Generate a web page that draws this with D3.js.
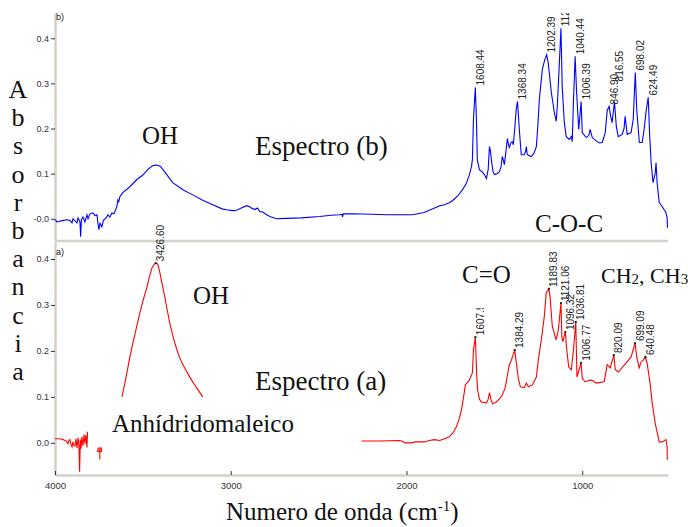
<!DOCTYPE html>
<html>
<head>
<meta charset="utf-8">
<script src="https://cdnjs.cloudflare.com/ajax/libs/d3/7.8.5/d3.min.js"></script>
<style>
    body { margin: 0; background: #fff; }
    svg { display: block; }
    .serif { font-family: "Liberation Serif", "Times New Roman", serif; fill: #111; }
    .tick text { font-family: "Liberation Sans", Arial, sans-serif; fill: #333; }
</style>
</head>
<body>
<svg id="chart"></svg>
<script>
// spectrum (b): [wavenumber, absorbance]
var specB = [
    [3999,-0.002],[3989,-0.007],[3960,-0.004],[3930,-0.002],[3915,-0.004],[3903,-0.009],[3898,0.000],[3887,-0.004],
    [3875,-0.009],[3869,0.002],[3858,-0.007],[3854,-0.040],[3850,-0.002],[3841,0.004],[3830,-0.007],[3818,0.009],
    [3812,0.000],[3801,0.011],[3784,0.013],[3773,0.007],[3761,0.009],[3756,-0.009],[3750,-0.024],[3744,-0.010],
    [3739,-0.013],[3733,-0.018],[3725,-0.004],[3716,0.000],[3705,0.004],[3699,0.009],[3688,0.004],[3676,0.013],
    [3665,0.011],[3659,0.016],[3648,0.027],[3642,0.042],[3637,0.038],[3631,0.049],[3614,0.058],[3574,0.071],
    [3534,0.087],[3500,0.097],[3470,0.110],[3443,0.118],[3420,0.119],[3400,0.116],[3380,0.106],[3330,0.080],
    [3270,0.064],[3216,0.053],[3160,0.041],[3102,0.031],[3050,0.022],[3023,0.020],[2990,0.018],[2966,0.019],
    [2940,0.024],[2909,0.029],[2890,0.026],[2875,0.022],[2860,0.021],[2848,0.024],[2835,0.016],[2818,0.015],
    [2800,0.010],[2778,0.005],[2739,0.000],[2682,0.001],[2600,0.002],[2494,0.005],[2430,0.008],[2381,0.009],
    [2367,0.010],[2364,0.004],[2360,0.011],[2307,0.011],[2200,0.010],[2114,0.009],[2030,0.009],[1966,0.009],
    [1900,0.014],[1850,0.022],[1810,0.029],[1784,0.031],[1760,0.035],[1739,0.040],[1710,0.050],[1682,0.064],
    [1660,0.078],[1642,0.098],[1630,0.116],[1625,0.131],[1619,0.220],[1608.44,0.291],[1602,0.220],[1597,0.131],
    [1585,0.109],[1570,0.104],[1557,0.098],[1545,0.089],[1535,0.110],[1528,0.160],[1522,0.150],[1517,0.131],
    [1508,0.105],[1500,0.098],[1485,0.100],[1472,0.104],[1462,0.115],[1455,0.138],[1449,0.130],[1443,0.120],
    [1434,0.150],[1426,0.178],[1420,0.165],[1415,0.158],[1404,0.170],[1398,0.171],[1392,0.164],[1384,0.200],
    [1375,0.245],[1368.34,0.260],[1358,0.198],[1347,0.142],[1330,0.142],[1322,0.150],[1318,0.160],[1313,0.142],
    [1290,0.138],[1275,0.145],[1261,0.160],[1252,0.210],[1244,0.264],[1235,0.300],[1227,0.331],[1215,0.350],
    [1202.39,0.364],[1195,0.349],[1186,0.318],[1176,0.280],[1166,0.255],[1159,0.236],[1148,0.216],[1142,0.249],
    [1132,0.330],[1121,0.422],[1114,0.293],[1102,0.213],[1091,0.182],[1074,0.176],[1062,0.182],[1057,0.171],
    [1050,0.260],[1040.44,0.360],[1032,0.280],[1020,0.198],[1006.39,0.260],[1000,0.191],[977,0.180],[962,0.185],
    [955,0.198],[943,0.180],[915,0.171],[900,0.168],[886,0.169],[869,0.191],[858,0.240],[846.9,0.249],
    [838,0.227],[830,0.213],[816.55,0.260],[806,0.204],[795,0.182],[773,0.187],[762,0.200],[756,0.227],
    [744,0.187],[722,0.191],[710,0.220],[698.02,0.324],[690,0.242],[675,0.169],[659,0.169],[648,0.198],
    [636,0.240],[624.49,0.269],[617,0.191],[608,0.124],[597,0.080],[585,0.100],[580,0.124],[574,0.080],
    [562,0.036],[550,0.030],[534,0.020],[525,0.015],[517,0.002],[515,-0.020]
];

// spectrum (a), drawn in pieces like the original
var specA1 = [
    [4000,0.009],[3972,0.009],[3955,0.007],[3937,0.004],[3926,-0.002],[3920,0.006],[3915,0.007],[3909,-0.004],
    [3903,-0.009],[3898,0.002],[3892,-0.006],[3886,-0.007],[3881,0.009],[3875,-0.011],[3869,0.011],[3864,-0.004],
    [3860,-0.063],[3856,0.007],[3852,-0.013],[3847,0.013],[3841,-0.007],[3835,0.018],[3830,-0.002],[3824,0.017],
    [3818,-0.010],[3815,0.024]
];
var specA2 = [
    [3757,-0.012],[3736,-0.011],[3736,-0.019],[3757,-0.019],[3757,-0.015],[3736,-0.015],[3745,-0.015],[3745,-0.036]
];
var specA3 = [
    [3619,0.100],[3605,0.125],[3591,0.152],[3575,0.185],[3557,0.217],[3537,0.250],[3517,0.283],[3497,0.312],
    [3477,0.339],[3462,0.362],[3449,0.380],[3437,0.388],[3426.6,0.391],[3415,0.389],[3403,0.370],[3390,0.345],
    [3375,0.317],[3361,0.288],[3347,0.261],[3333,0.238],[3318,0.217],[3300,0.195],[3278,0.174],[3255,0.158],
    [3233,0.143],[3195,0.120],[3159,0.100]
];
var specA4 = [
    [2256,0.004],[2153,0.004],[2040,0.005],[2020,0.003],[2011,0.000],[1972,0.000],[1950,0.002],[1898,0.002],
    [1870,0.005],[1841,0.007],[1812,0.005],[1790,0.008],[1756,0.013],[1735,0.022],[1716,0.035],[1700,0.052],
    [1687,0.072],[1675,0.100],[1665,0.126],[1642,0.137],[1625,0.152],[1619,0.202],[1607.9,0.230],[1600,0.143],
    [1595,0.115],[1585,0.095],[1574,0.089],[1545,0.087],[1535,0.095],[1528,0.109],[1520,0.095],[1511,0.085],
    [1489,0.089],[1470,0.096],[1455,0.104],[1440,0.118],[1432,0.133],[1415,0.170],[1403,0.180],[1384.29,0.202],
    [1375,0.174],[1364,0.141],[1352,0.122],[1330,0.120],[1318,0.130],[1307,0.122],[1284,0.126],[1261,0.143],
    [1250,0.180],[1233,0.224],[1216,0.274],[1205,0.326],[1189.83,0.335],[1183,0.317],[1170,0.252],[1148,0.224],
    [1136,0.246],[1121.06,0.304],[1116,0.230],[1111,0.220],[1096.32,0.241],[1088,0.202],[1077,0.165],[1062,0.159],
    [1050,0.202],[1036.81,0.263],[1030,0.143],[1022,0.154],[1006.77,0.174],[1000,0.141],[985,0.133],[949,0.137],
    [920,0.130],[875,0.133],[858,0.170],[841,0.163],[820.09,0.191],[812,0.159],[795,0.154],[750,0.174],
    [722,0.187],[699.09,0.217],[690,0.187],[676,0.163],[665,0.176],[653,0.180],[640.48,0.187],[631,0.174],
    [614,0.130],[602,0.087],[585,0.043],[562,0.002],[545,0.002],[523,0.007],[517,-0.009],[516,-0.037]
];

// peak labels: [text, wavenumber, absorbance where the label sits]
var peaksB = [
    ["1608.44",1608.44,0.291],["1368.34",1368.34,0.260],["1202.39",1202.39,0.364],["1121.10",1121,0.422],
    ["1040.44",1040.44,0.360],["1006.39",1006.39,0.260],["846.90",846.9,0.249],["816.55",816.55,0.300],
    ["698.02",698.02,0.324],["624.49",624.49,0.269]
];
var peaksA = [
    ["3426.60",3426.6,0.391],["1607.91",1607.9,0.230],["1384.29",1384.29,0.202],["1189.83",1189.83,0.335],
    ["1121.06",1121.06,0.304],["1096.32",1096.32,0.241],["1036.81",1036.81,0.263],["1006.77",1006.77,0.174],
    ["820.09",820.09,0.191],["699.09",699.09,0.217],["640.48",640.48,0.187]
];

var yTicks = [0, 0.1, 0.2, 0.3, 0.4];
var xTicks = [4000, 3000, 2000, 1000];
var yLetters = "Absorbancia".split("");

var width = 688,
    height = 527,
    axisGray = '#d4d1ca';

var svg = d3.select('#chart')
    .attr('width', width)
    .attr('height', height);

var x = d3.scaleLinear().domain([4000, 512]).range([55, 668]);
var yB = d3.scaleLinear().domain([-0.047, 0.456]).range([240, 13]);
var yA = d3.scaleLinear().domain([-0.07, 0.437]).range([475, 242]);

svg.append('clipPath').attr('id', 'clipB')
    .append('rect').attr('x', 0).attr('y', 13).attr('width', width).attr('height', 235);

// separator between the two panels
svg.append('line')
    .attr('x1', x.range()[0]).attr('x2', x.range()[1])
    .attr('y1', 241).attr('y2', 241)
    .attr('stroke', axisGray).attr('stroke-width', 2.5);

function yAxis(scale, fmt) {
    var g = svg.append('g').attr('transform', 'translate(55,0)');
    g.call(d3.axisLeft(scale)
        .tickValues(d3.range(-0.04, 0.45, 0.02).filter(function (d) { return d >= scale.domain()[0]; }))
        .tickSize(3).tickSizeOuter(0).tickFormat(''));
    g.call(d3.axisLeft(scale).tickValues(yTicks).tickSize(4).tickSizeOuter(0).tickPadding(2).tickFormat(fmt));
    g.selectAll('.domain').attr('stroke', axisGray).attr('stroke-width', 2.5);
    g.selectAll('.tick line').attr('stroke', '#333');
    g.selectAll('.tick text').style('font-size', '9px');
    return g;
}

yAxis(yB, function (d) { return d === 0 ? '-0.0' : d3.format('.1f')(d); });
yAxis(yA, d3.format('.1f'));

// x axis
var gx = svg.append('g').attr('transform', 'translate(0,475)');
gx.call(d3.axisBottom(x).tickValues(d3.range(3750, 500, -250)).tickSizeInner(-3).tickSizeOuter(0).tickFormat(''));
gx.call(d3.axisBottom(x).tickValues(xTicks).tickSizeInner(-4).tickSizeOuter(0).tickPadding(7).tickFormat(d3.format('d')));
gx.selectAll('.domain').attr('stroke', axisGray).attr('stroke-width', 2.5);
gx.selectAll('.tick line').attr('stroke', '#333');
gx.selectAll('.tick text').style('font-size', '9.5px');

// spectra
var lineB = d3.line().x(function (d) { return x(d[0]); }).y(function (d) { return yB(d[1]); });
var lineA = d3.line().x(function (d) { return x(d[0]); }).y(function (d) { return yA(d[1]); });

svg.append('path').datum(specB)
    .attr('d', lineB).attr('fill', 'none').attr('stroke', '#0000ff').attr('stroke-width', 1.1);

[specA1, specA2, specA3, specA4].forEach(function (s) {
    svg.append('path').datum(s)
        .attr('d', lineA).attr('fill', 'none').attr('stroke', '#ff0000').attr('stroke-width', 1.1);
});

// peak markers and labels
svg.selectAll('rect.markA')
    .data(peaksA).enter().append('rect')
    .attr('class', 'markA')
    .attr('x', function (d) { return x(d[1]) - 1; })
    .attr('y', function (d) { return yA(d[2]) - 1; })
    .attr('width', 2).attr('height', 2)
    .attr('fill', '#222');

function peakLabels(g, data, scale) {
    g.selectAll('text')
        .data(data).enter().append('text')
        .attr('transform', function (d) {
            return 'translate(' + (x(d[1]) + 8.5) + ',' + (scale(d[2]) - 2) + ')rotate(-90)';
        })
        .style('font-family', '"Liberation Sans", Arial, sans-serif')
        .style('font-size', '10px')
        .attr('fill', '#222')
        .text(function (d) { return d[0]; });
}
peakLabels(svg.append('g').attr('clip-path', 'url(#clipB)'), peaksB, yB);
peakLabels(svg.append('g'), peaksA, yA);

// text box of C=O hides the top of its neighbour label
svg.append('rect').attr('x', 455).attr('y', 252).attr('width', 56).attr('height', 56).attr('fill', '#fff');

// panel tags
svg.append('text').attr('x', 56).attr('y', 20).style('font-family', 'Liberation Sans, Arial').style('font-size', '9px').attr('fill', '#222').text('b)');
svg.append('text').attr('x', 56).attr('y', 255).style('font-family', 'Liberation Sans, Arial').style('font-size', '9px').attr('fill', '#222').text('a)');

// annotations
function note(tx, ty, size, str) {
    return svg.append('text').attr('class', 'serif')
        .attr('x', tx).attr('y', ty).style('font-size', size + 'px').text(str);
}
note(142, 144, 25, 'OH');
note(255, 155, 27, 'Espectro (b)');
note(535, 232, 25, 'C-O-C');
note(462, 283, 25, 'C=O');
var ch = note(601, 283, 22, 'CH');
ch.append('tspan').attr('dy', 1).style('font-size', '15px').text('2');
ch.append('tspan').attr('dy', -1).text(', CH');
ch.append('tspan').attr('dy', 1).style('font-size', '15px').text('3');
note(193, 304, 25, 'OH');
note(255, 390, 27, 'Espectro (a)');
note(112, 432, 25, 'Anhídridomaleico');

var xl = note(226, 520, 25, 'Numero de onda (cm');
xl.append('tspan').attr('dy', -9).style('font-size', '15px').text('-1');
xl.append('tspan').attr('dy', 9).text(')');

svg.selectAll('text.ylet')
    .data(yLetters).enter().append('text')
    .attr('class', 'serif ylet')
    .attr('x', 18)
    .attr('y', function (d, i) { return 98 + i * 28.2; })
    .attr('text-anchor', 'middle')
    .style('font-size', '26px')
    .text(function (d) { return d; });
</script>
</body>
</html>
